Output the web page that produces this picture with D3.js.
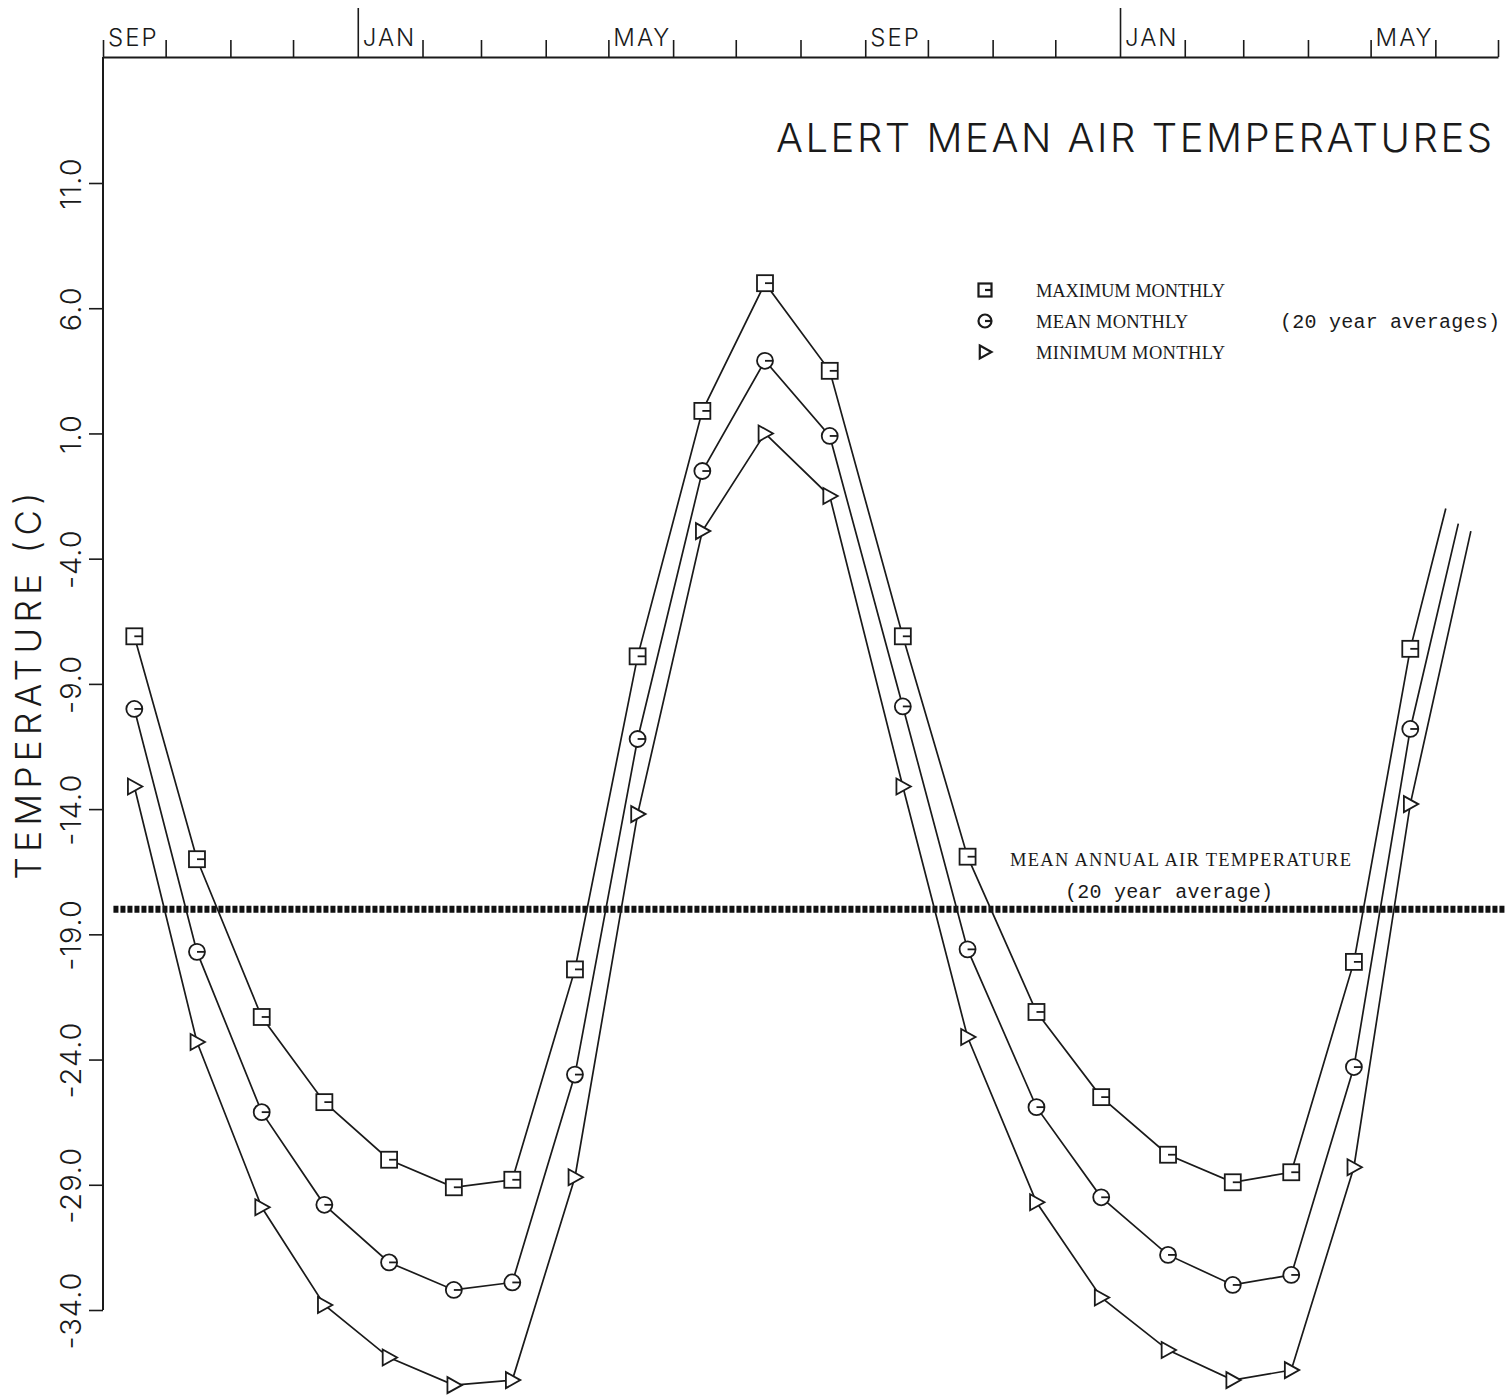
<!DOCTYPE html>
<html>
<head>
<meta charset="utf-8">
<script src="https://cdn.jsdelivr.net/npm/d3@7"></script>
<style>
  html, body { margin: 0; padding: 0; background: #fff; }
  svg { display: block; }
</style>
</head>
<body>
<script>
// ---------------- DATA ----------------
const axisStart = "1973-09-01";
const axisEnd = "1975-07-01";

const monthLabelDates = ["1973-09-01", "1974-01-01", "1974-05-01", "1974-09-01", "1975-01-01", "1975-05-01"];
const monthLabelTexts = ["SEP", "JAN", "MAY", "SEP", "JAN", "MAY"];

const yTickValues = [11, 6, 1, -4, -9, -14, -19, -24, -29, -34];

const pointDates = [
  "1973-09-16", "1973-10-16", "1973-11-16", "1973-12-16", "1974-01-16", "1974-02-16",
  "1974-03-16", "1974-04-15", "1974-05-15", "1974-06-15", "1974-07-15", "1974-08-15",
  "1974-09-19", "1974-10-20", "1974-11-22", "1974-12-23", "1975-01-24", "1975-02-24",
  "1975-03-24", "1975-04-23", "1975-05-20"
];

const maxMonthly = [
  -7.1, -16.0, -22.3, -25.7, -28.0, -29.1, -28.8, -20.4, -7.9, 1.9, 7.0, 3.5,
  -7.1, -15.9, -22.1, -25.5, -27.8, -28.9, -28.5, -20.1, -7.6
];
const meanMonthly = [
  -10.0, -19.7, -26.1, -29.8, -32.1, -33.2, -32.9, -24.6, -11.2, -0.5, 3.9, 0.9,
  -9.9, -19.6, -25.9, -29.5, -31.8, -33.0, -32.6, -24.3, -10.8
];
const minMonthly = [
  -13.1, -23.3, -29.9, -33.8, -35.9, -37.0, -36.8, -28.7, -14.2, -2.9, 1.0, -1.5,
  -13.1, -23.1, -29.7, -33.5, -35.6, -36.8, -36.4, -28.3, -13.8
];

// where each drawn line stops (continuing toward June, no marker)
const lineEndDates = ["1975-06-06", "1975-06-12", "1975-06-18"];
const lineEndValues = [-2.0, -2.6, -2.9];

const meanAnnual = -18.0;
const meanLineDates = ["1973-09-06", "1975-07-05"];

const legendLabels = ["MAXIMUM MONTHLY", "MEAN MONTHLY", "MINIMUM MONTHLY"];
const legendNote = "(20 year averages)";
const title = "ALERT MEAN AIR TEMPERATURES";
const yTitle = "TEMPERATURE (C)";
const meanLabel1 = "MEAN ANNUAL AIR TEMPERATURE";
const meanLabel2 = "(20 year average)";

// ---------------- CHART ----------------
const W = 1506, H = 1397;
const parse = d3.timeParse("%Y-%m-%d");
const ink = "#1a1a1a";
const plotFont = "Inter, Roboto, 'DejaVu Sans', sans-serif";
const serifFont = "'Liberation Serif', 'Times New Roman', serif";
const monoFont = "'Liberation Mono', 'Courier New', monospace";

const svg = d3.select("body").append("svg")
  .attr("width", W).attr("height", H)
  .attr("viewBox", `0 0 ${W} ${H}`);

svg.append("rect").attr("width", W).attr("height", H).attr("fill", "#fff");

const x = d3.scaleTime().domain([parse(axisStart), parse(axisEnd)]).range([103, 1498]);
const y = d3.scaleLinear().domain([-34, 11]).range([1310, 183]);
const axisTopY = 57;

// top axis
const topAxis = d3.axisTop(x)
  .ticks(d3.timeMonth.every(1))
  .tickSize(17)
  .tickSizeOuter(0)
  .tickFormat("");
const gTop = svg.append("g").attr("transform", `translate(0,${axisTopY})`).call(topAxis);
gTop.select(".domain").attr("stroke", ink).attr("stroke-width", 2);
gTop.selectAll(".tick line").attr("stroke", ink).attr("stroke-width", 1.6)
  .attr("y2", d => d.getMonth() === 0 ? -49 : -17);

svg.append("g").selectAll("text").data(monthLabelDates).join("text")
  .attr("x", d => x(parse(d)) + 5)
  .attr("y", 46)
  .attr("font-family", plotFont)
  .attr("font-weight", 300)
  .attr("font-size", 24)
  .attr("letter-spacing", 2)
  .attr("fill", ink)
  .text((d, i) => monthLabelTexts[i]);

// left axis
const leftAxis = d3.axisLeft(y)
  .tickValues(yTickValues)
  .tickSize(14)
  .tickSizeOuter(0)
  .tickFormat(d => d.toFixed(1));
const gLeft = svg.append("g").attr("transform", `translate(103,0)`).call(leftAxis);
gLeft.select(".domain").remove();
gLeft.selectAll(".tick line").attr("stroke", ink).attr("stroke-width", 1.6);
gLeft.selectAll(".tick text")
  .attr("x", null).attr("dy", null)
  .attr("transform", "translate(-22,0) rotate(-90)")
  .attr("text-anchor", "middle")
  .attr("font-family", plotFont)
  .attr("font-weight", 300)
  .attr("font-size", 29)
  .attr("letter-spacing", 1)
  .attr("fill", ink);
svg.append("line")
  .attr("x1", 103).attr("x2", 103)
  .attr("y1", axisTopY).attr("y2", y(-34))
  .attr("stroke", ink).attr("stroke-width", 2);

// y title
svg.append("text")
  .attr("transform", `translate(41,686) rotate(-90)`)
  .attr("text-anchor", "middle")
  .attr("font-family", plotFont)
  .attr("font-weight", 300)
  .attr("font-size", 35)
  .attr("textLength", 387)
  .attr("lengthAdjust", "spacing")
  .attr("fill", ink)
  .text(yTitle);

// title
svg.append("text")
  .attr("x", 776).attr("y", 152)
  .attr("font-family", plotFont)
  .attr("font-weight", 300)
  .attr("font-size", 40)
  .attr("textLength", 716)
  .attr("lengthAdjust", "spacing")
  .attr("fill", ink)
  .text(title);

// mean annual heavy dotted line
svg.append("line")
  .attr("x1", x(parse(meanLineDates[0]))).attr("x2", x(parse(meanLineDates[1])))
  .attr("y1", y(meanAnnual)).attr("y2", y(meanAnnual))
  .attr("stroke", "#111").attr("stroke-width", 7)
  .attr("stroke-dasharray", "5,2");

svg.append("text")
  .attr("x", 1010).attr("y", 866)
  .attr("font-family", serifFont)
  .attr("font-size", 18.5).attr("fill", ink)
  .attr("textLength", 341).attr("lengthAdjust", "spacing")
  .text(meanLabel1);
svg.append("text")
  .attr("x", 1065).attr("y", 898)
  .attr("font-family", monoFont)
  .attr("font-size", 20).attr("fill", ink)
  .attr("textLength", 208).attr("lengthAdjust", "spacing")
  .text(meanLabel2);

// series
const seriesValues = [maxMonthly, meanMonthly, minMonthly];
const shapes = ["square", "circle", "triangle"];
const series = seriesValues.map((vals, si) => {
  const pts = pointDates.map((d, i) => ({ date: parse(d), v: vals[i] }));
  return { shape: shapes[si], pts, end: { date: parse(lineEndDates[si]), v: lineEndValues[si] } };
});

const line = d3.line().x(d => x(d.date)).y(d => y(d.v));

const gLines = svg.append("g");
series.forEach(s => {
  gLines.append("path")
    .attr("d", line(s.pts.concat([s.end])))
    .attr("fill", "none")
    .attr("stroke", ink)
    .attr("stroke-width", 1.7);
});

function drawMarker(g, shape, cx, cy, size, sw) {
  const h = size / 2;
  const m = g.append("g").attr("transform", `translate(${cx},${cy})`)
    .attr("fill", "#fff").attr("stroke", ink).attr("stroke-width", sw);
  if (shape === "square") {
    m.append("rect").attr("x", -h).attr("y", -h).attr("width", size).attr("height", size);
    m.append("line").attr("x1", 0).attr("x2", h).attr("y1", 0).attr("y2", 0);
  } else if (shape === "circle") {
    m.append("circle").attr("r", h);
    m.append("line").attr("x1", 0).attr("x2", h).attr("y1", 0).attr("y2", 0);
  } else {
    m.append("path").attr("d", `M${-h * 0.8},${-h} L${h},0 L${-h * 0.8},${h} Z`);
  }
}

const gMarks = svg.append("g");
series.forEach(s => {
  s.pts.forEach(p => drawMarker(gMarks, s.shape, x(p.date), y(p.v), 16, 1.8));
});

// legend
const legendWidths = [189, 152, 189];
const gLeg = svg.append("g");
legendLabels.forEach((lab, i) => {
  const ly = 290 + i * 31;
  drawMarker(gLeg, shapes[i], 985, ly, 13, 2.2);
  gLeg.append("text")
    .attr("x", 1036).attr("y", ly + 7)
    .attr("font-family", serifFont)
    .attr("font-size", 18.5).attr("fill", ink)
    .attr("textLength", legendWidths[i]).attr("lengthAdjust", "spacing")
    .text(lab);
});
gLeg.append("text")
  .attr("x", 1280).attr("y", 328)
  .attr("font-family", monoFont)
  .attr("font-size", 20).attr("fill", ink)
  .attr("textLength", 220).attr("lengthAdjust", "spacing")
  .text(legendNote);
</script>
</body>
</html>
